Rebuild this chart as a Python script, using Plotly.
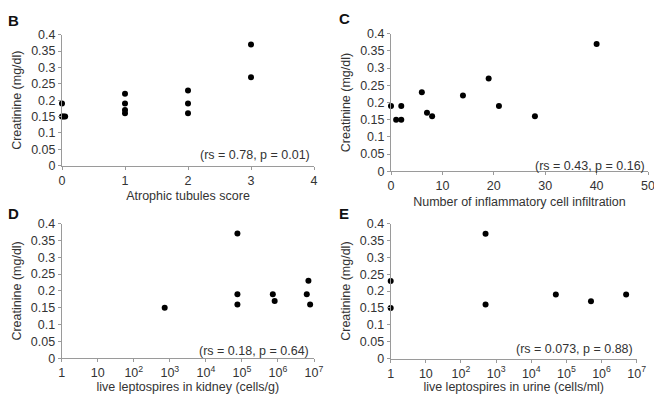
import plotly.graph_objects as go

# ---- data ----
b_score = [0, 0, 0.025, 0.05, 1, 1, 1, 1, 2, 2, 2, 3, 3]
b_creat = [0.19, 0.15, 0.15, 0.15, 0.22, 0.19, 0.17, 0.16, 0.23, 0.19, 0.16, 0.37, 0.27]

c_cells = [0, 1, 2, 2, 6, 7, 8, 14, 19, 21, 28, 40]
c_creat = [0.19, 0.15, 0.15, 0.19, 0.23, 0.17, 0.16, 0.22, 0.27, 0.19, 0.16, 0.37]

d_kidney = [720, 7.5e4, 7.5e4, 7.5e4, 7.2e5, 8.1e5, 6.3e6, 7.0e6, 7.8e6]
d_creat = [0.15, 0.37, 0.19, 0.16, 0.19, 0.17, 0.19, 0.23, 0.16]

e_urine = [1, 1, 500, 500, 5e4, 5e5, 5e6]
e_creat = [0.23, 0.15, 0.37, 0.16, 0.19, 0.17, 0.19]

y_ticks = [0, 0.05, 0.1, 0.15, 0.2, 0.25, 0.3, 0.35, 0.4]
log_tickvals = [1, 10, 1e2, 1e3, 1e4, 1e5, 1e6, 1e7]
log_ticktext = ["1", "10", "10<sup>2</sup>", "10<sup>3</sup>", "10<sup>4</sup>",
                "10<sup>5</sup>", "10<sup>6</sup>", "10<sup>7</sup>"]

panel_letters = ["B", "C", "D", "E"]
stats = ["(rs = 0.78, p = 0.01)", "(rs = 0.43, p = 0.16)",
         "(rs = 0.18, p = 0.64)", "(rs = 0.073, p = 0.88)"]
x_titles = ["Atrophic tubules score", "Number of inflammatory cell infiltration",
            "live leptospires in kidney (cells/g)", "live leptospires in urine (cells/ml)"]
y_title = "Creatinine (mg/dl)"

W, H = 654, 394
FONT = "Liberation Sans, Arial, sans-serif"
TXT = "#333333"
AX = "#9a9a9a"

def px(x):
    return x / W

def py(y):
    return 1 - y / H

# panel boxes in pixels: (left, right, top, bottom)
boxes = [(62, 314, 34.7, 165.7), (391, 648, 33.7, 171.3),
         (61.7, 314, 223.5, 358.3), (390.7, 636.7, 223.7, 358.5)]

fig = go.Figure()
series = [(b_score, b_creat), (c_cells, c_creat), (d_kidney, d_creat), (e_urine, e_creat)]
for i, (xs, ys) in enumerate(series):
    fig.add_trace(go.Scatter(x=xs, y=ys, mode="markers",
                             marker=dict(color="black", size=6),
                             cliponaxis=False, showlegend=False,
                             xaxis="x" if i == 0 else f"x{i+1}",
                             yaxis="y" if i == 0 else f"y{i+1}"))

layout = dict(width=W, height=H, margin=dict(l=0, r=0, t=0, b=0),
              paper_bgcolor="white", plot_bgcolor="white",
              font=dict(family=FONT, size=12.5, color=TXT))

xranges = [[0, 4], [0, 50], [0, 7], [0, 7]]
xdticks = [1, 10, None, None]
x_standoff = [4, 4, 0, 0]
for i, (l, r, t, b) in enumerate(boxes):
    xn = "xaxis" if i == 0 else f"xaxis{i+1}"
    yn = "yaxis" if i == 0 else f"yaxis{i+1}"
    xa = dict(domain=[px(l), px(r)], range=xranges[i], showline=True, linecolor=AX,
              linewidth=1, ticks="outside", ticklen=3, tickcolor=AX, showgrid=False,
              zeroline=False, tickfont=dict(size=12.5, color=TXT), automargin=False,
              ticklabeloverflow="allow",
              anchor="y" if i == 0 else f"y{i+1}",
              title=dict(text=x_titles[i], font=dict(size=12.5, color=TXT),
                         standoff=x_standoff[i]))
    if i >= 2:
        xa.update(type="log", tickvals=log_tickvals, ticktext=log_ticktext)
    else:
        xa.update(dtick=xdticks[i], tick0=0)
    ya = dict(domain=[py(b), py(t)], range=[0, 0.4], tickvals=y_ticks,
              showline=True, linecolor=AX, linewidth=1, ticks="outside", ticklen=3,
              tickcolor=AX, showgrid=False, zeroline=False, automargin=False,
              tickfont=dict(size=12.5, color=TXT),
              anchor="x" if i == 0 else f"x{i+1}",
              title=dict(text=y_title, font=dict(size=12.5, color=TXT), standoff=6))
    layout[xn] = xa
    layout[yn] = ya

fig.update_layout(**layout)

letter_pos = [(13, 20), (345, 19), (13, 213), (344, 213)]
stat_pos = [(312, 155), (647, 166), (311, 351), (635, 349)]
for i in range(4):
    fig.add_annotation(text=f"<b>{panel_letters[i]}</b>", x=px(letter_pos[i][0]),
                       y=py(letter_pos[i][1]), xref="paper", yref="paper",
                       showarrow=False, font=dict(size=15, color="#111"),
                       xanchor="center", yanchor="middle")
    fig.add_annotation(text=stats[i], x=px(stat_pos[i][0]), y=py(stat_pos[i][1]),
                       xref="paper", yref="paper", showarrow=False,
                       font=dict(size=12.5, color=TXT), xanchor="right", yanchor="middle")

fig.write_html("out.html", config={"displayModeBar": False},
               post_script="document.body.style.margin='0';document.body.style.overflow='hidden';")
